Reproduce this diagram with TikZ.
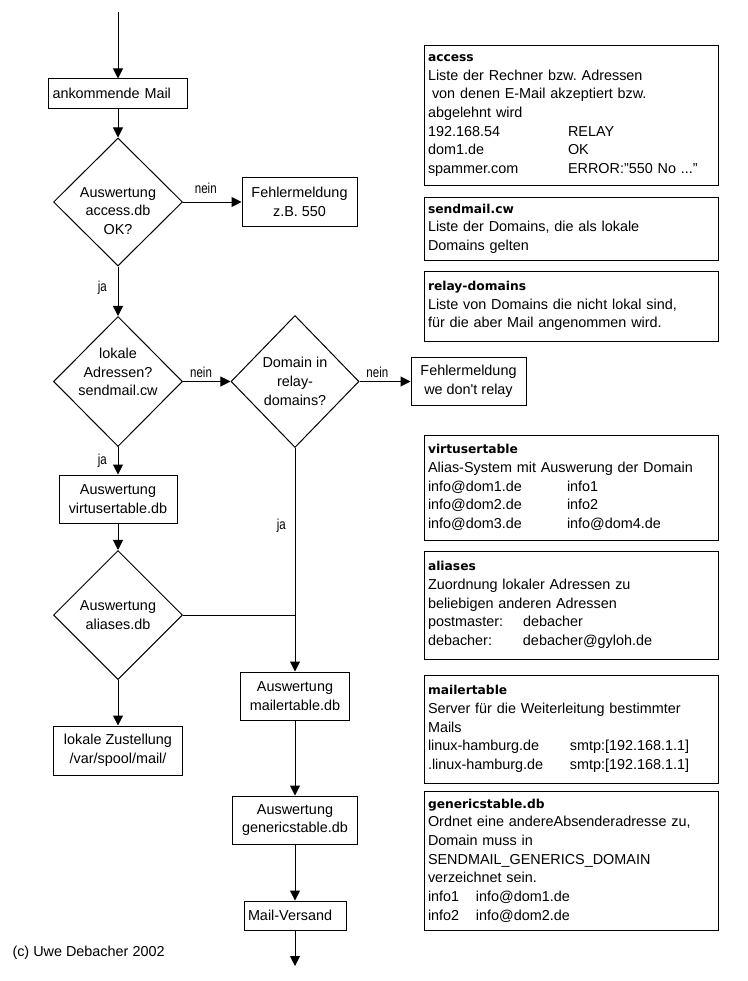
\documentclass[tikz,border=0pt]{standalone}
\usepackage{fontspec}
\usepackage{graphicx}
\setmainfont{Liberation Sans}
\newfontfamily\titlefont{DejaVu Sans}
\usetikzlibrary{arrows.meta,shapes.geometric}
\newcommand{\col}[2]{\makebox[#1][l]{#2}}
\newcommand{\narrowtxt}[1]{\scalebox{0.8}[1]{#1}}
\newcommand{\ttl}[1]{{\titlefont\bfseries\fontsize{9.2}{14}\selectfont #1}}
\frenchspacing
\begin{document}
\begin{tikzpicture}[x=0.75pt,y=-0.75pt,
  every node/.style={font=\fontsize{10.8}{14}\selectfont},
  line width=0.75pt,
  flowbox/.style={draw, rectangle, inner sep=0pt, align=center},
  decision/.style={draw, diamond, inner sep=0pt},
  dtext/.style={inner sep=0pt, align=center, font=\fontsize{10.8}{14}\selectfont},
  infobox/.style={draw, rectangle, minimum width=220.5pt, inner xsep=3pt, inner ysep=0pt, text width=214.5pt, align=left},
  arr/.style={-{Triangle[length=7.5pt,width=7.5pt]}},
  lbl/.style={inner sep=0pt, font=\fontsize{10.8}{14}\selectfont}
]
\fill[white] (0,0) rectangle (748,981);
\useasboundingbox (0,0) rectangle (748,981);

% left flow
\coordinate (start) at (118,12);
\node[flowbox, minimum width=104.25pt, minimum height=21.75pt, text width=98.25pt, inner xsep=3pt, align=left] (ank) at (118,93.5) {ankommende Mail};
\node[decision, minimum width=96.75pt, minimum height=96pt,
  label={[dtext, yshift=-6.6pt]center:{Auswertung\\access.db\\OK?}}] (d1) at (118,202) {};
\node[flowbox, minimum width=86.25pt, minimum height=36.75pt] (f1) at (299.5,202) {Fehlermeldung\\z.B. 550};
\node[decision, minimum width=96.75pt, minimum height=97.5pt,
  label={[dtext, yshift=7.1pt]center:{lokale\\Adressen?\\sendmail.cw}}] (d2) at (118,381.5) {};
\node[decision, minimum width=96pt, minimum height=99pt,
  label={[dtext]center:{Domain in\\relay-\\domains?}}] (d3) at (295,381.5) {};
\node[flowbox, minimum width=86.25pt, minimum height=36pt] (f2) at (468.5,381.5) {Fehlermeldung\\we don\textquotesingle t relay};
\node[flowbox, minimum width=88.5pt, minimum height=36pt] (v) at (118,499) {Auswertung\\virtusertable.db};
\node[decision, minimum width=96.75pt, minimum height=96.75pt,
  label={[dtext]center:{Auswertung\\aliases.db}}] (d4) at (118,615) {};
\node[flowbox, minimum width=96.75pt, minimum height=36.75pt] (lz) at (118,750.5) {lokale Zustellung\\/var/spool/mail/};
\node[flowbox, minimum width=81.75pt, minimum height=36pt] (mt) at (295,696) {Auswertung\\mailertable.db};
\node[flowbox, minimum width=93.75pt, minimum height=36pt] (gt) at (295,820) {Auswertung\\genericstable.db};
\node[flowbox, minimum width=76.5pt, minimum height=21.75pt, text width=70.5pt, inner xsep=3pt, align=left] (mv) at (295,915.5) {Mail-Versand};
\coordinate (end) at (295,966);
\coordinate (j) at (295,615);

\node[anchor=west, inner sep=0pt] (copy) at (12,953) {(c) Uwe Debacher 2002};

% connectors
\draw[arr] (start) -- (ank);
\draw[arr] (ank) -- (d1);
\draw[arr] (d1) -- node[lbl, pos=0.39, above=6pt]{\narrowtxt{nein}} (f1);
\draw[arr] (d1) -- node[lbl, pos=0.42, left=8pt]{\narrowtxt{ja}} (d2);
\draw[arr] (d2) -- node[lbl, pos=0.38, above=2.5pt]{\narrowtxt{nein}} (d3);
\draw[arr] (d3) -- node[lbl, pos=0.35, above=2.5pt]{\narrowtxt{nein}} (f2);
\draw[arr] (d2) -- node[lbl, pos=0.5, left=8pt]{\narrowtxt{ja}} (v);
\draw[arr] (v) -- (d4);
\draw[arr] (d4) -- (lz);
\draw (d4) -- (j);
\draw[arr] (d3) -- node[lbl, pos=0.35, left=6.5pt]{\narrowtxt{ja}} (mt);
\draw[arr] (mt) -- (gt);
\draw[arr] (gt) -- (mv);
\draw[arr] (mv) -- (end);

% info boxes
\node[infobox, minimum height=104.25pt] (access) at (571,115.5) {\ttl{access}\\
Liste der Rechner bzw. Adressen\\
\hspace*{3pt}von denen E-Mail akzeptiert bzw.\\
abgelehnt wird\\
\col{105pt}{192.168.54}RELAY\\
\col{105pt}{dom1.de}OK\\
\col{105pt}{spammer.com}ERROR:"550 No ..."};

\node[infobox, minimum height=47.25pt] (cw) at (571,228.5) {\ttl{sendmail.cw}\\
Liste der Domains, die als lokale\\
Domains gelten};

\node[infobox, minimum height=52.5pt] (relay) at (571,306) {\ttl{relay-domains}\\
Liste von Domains die nicht lokal sind,\\
f\"ur die aber Mail angenommen wird.};

\node[infobox, minimum height=78.75pt] (virt) at (571,487.5) {\ttl{virtusertable}\\
Alias-System mit Auswerung der Domain\\
\col{104.25pt}{info@dom1.de}info1\\
\col{104.25pt}{info@dom2.de}info2\\
\col{104.25pt}{info@dom3.de}info@dom4.de};

\node[infobox, minimum height=81pt] (alias) at (571,605) {\ttl{aliases}\\
Zuordnung lokaler Adressen zu\\
beliebigen anderen Adressen\\
\col{71.25pt}{postmaster:}debacher\\
\col{71.25pt}{debacher:}debacher@gyloh.de};

\node[infobox, minimum height=81pt] (mailer) at (571,729) {\ttl{mailertable}\\
Server f\"ur die Weiterleitung bestimmter\\
Mails\\
\col{106.5pt}{linux-hamburg.de}smtp:[192.168.1.1]\\
\col{106.5pt}{.linux-hamburg.de}smtp:[192.168.1.1]};

\node[infobox, minimum height=104.25pt] (generic) at (571,860.5) {\ttl{genericstable.db}\\
Ordnet eine andereAbsenderadresse zu,\\
Domain muss in\\
SENDMAIL\_GENERICS\_DOMAIN\\
verzeichnet sein.\\
\col{36pt}{info1}info@dom1.de\\
\col{36pt}{info2}info@dom2.de};
\end{tikzpicture}
\end{document}
